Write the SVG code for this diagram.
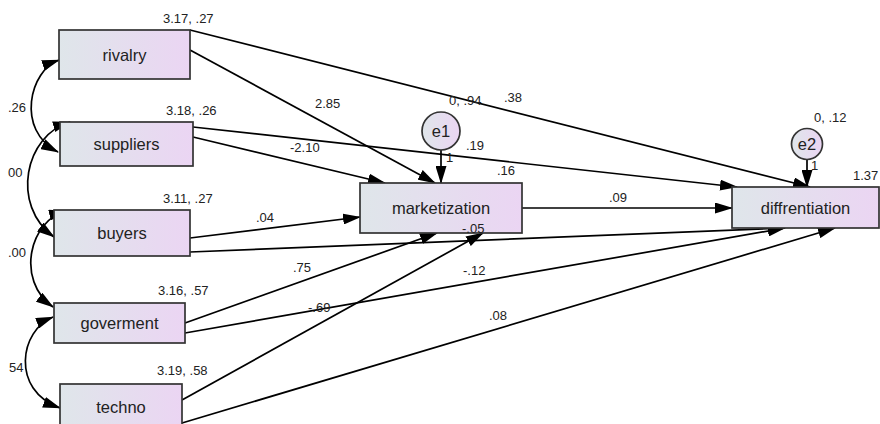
<svg xmlns="http://www.w3.org/2000/svg" width="880" height="424" viewBox="0 0 880 424">
  <defs>
    <linearGradient id="fillGrad" x1="0" y1="0" x2="1" y2="0">
      <stop offset="0" stop-color="#dfe6ea"/>
      <stop offset="1" stop-color="#ebd5f3"/>
    </linearGradient>
    <marker id="ah" viewBox="0 0 18 11" refX="17" refY="5.5" markerWidth="18" markerHeight="11" markerUnits="userSpaceOnUse" orient="auto-start-reverse">
      <path d="M0,0 L18,5.5 L0,11 z" fill="#000"/>
    </marker>
    <style>
      .box { fill: url(#fillGrad); stroke: #333; stroke-width: 1.7; }
      .err { fill: url(#fillGrad); stroke: #333; stroke-width: 1.7; }
      .lbl { font-family: "Liberation Sans", Arial, sans-serif; font-size: 16.5px; fill: #222; text-anchor: middle; }
      .num { font-family: "Liberation Sans", Arial, sans-serif; font-size: 13px; fill: #222; }
      .edge { fill: none; stroke: #000; stroke-width: 1.7; marker-end: url(#ah); }
      .cov { fill: none; stroke: #000; stroke-width: 1.7; marker-start: url(#ah); marker-end: url(#ah); }
    </style>
  </defs>

  <!-- connectors -->
  <g id="connectors">
    <path class="edge" d="M190,50 L435,183"/>
    <path class="edge" d="M190,30 L810,187"/>
    <path class="edge" d="M193,137 L385,183"/>
    <path class="edge" d="M193,127 L737,187"/>
    <path class="edge" d="M190,238 L360,217"/>
    <path class="edge" d="M190,252 L785,228"/>
    <path class="edge" d="M185,323 L437,233"/>
    <path class="edge" d="M185,333 L785,228"/>
    <path class="edge" d="M182,400 L483,233"/>
    <path class="edge" d="M182,423 L835,228"/>
    <path class="edge" d="M522,208 L732,208"/>
    <path class="edge" d="M441,150 L441,183"/>
    <path class="edge" d="M807,160 L807,187"/>
    <!-- covariances between exogenous variables -->
    <path class="cov" d="M59,60 C30,70 15,130 58,152"/>
    <path class="cov" d="M70,122 C25,135 10,205 54,237"/>
    <path class="cov" d="M66,211 C30,220 15,280 53,307"/>
    <path class="cov" d="M53,317 C20,330 10,390 60,408"/>
  </g>

  <!-- observed variables -->
  <g id="rivalry">
    <rect class="box" x="59" y="30" width="131" height="49"/>
    <text class="lbl" x="124.5" y="60.5">rivalry</text>
    <text class="num" x="163" y="23">3.17, .27</text>
  </g>
  <g id="suppliers">
    <rect class="box" x="60" y="122" width="133" height="44"/>
    <text class="lbl" x="126.5" y="150">suppliers</text>
    <text class="num" x="166" y="115">3.18, .26</text>
  </g>
  <g id="buyers">
    <rect class="box" x="54" y="210" width="136" height="46"/>
    <text class="lbl" x="122" y="239">buyers</text>
    <text class="num" x="163" y="203">3.11, .27</text>
  </g>
  <g id="goverment">
    <rect class="box" x="54" y="303" width="131" height="40"/>
    <text class="lbl" x="119.5" y="329">goverment</text>
    <text class="num" x="158" y="295">3.16, .57</text>
  </g>
  <g id="techno">
    <rect class="box" x="60" y="384" width="122" height="46"/>
    <text class="lbl" x="121" y="413">techno</text>
    <text class="num" x="157" y="375">3.19, .58</text>
  </g>
  <g id="marketization">
    <rect class="box" x="360" y="183" width="162" height="50"/>
    <text class="lbl" x="441" y="214">marketization</text>
    <text class="num" x="497" y="175">.16</text>
  </g>
  <g id="diffrentiation">
    <rect class="box" x="732" y="187" width="147" height="41"/>
    <text class="lbl" x="805.5" y="213.5">diffrentiation</text>
    <text class="num" x="853" y="180">1.37</text>
  </g>

  <!-- residuals -->
  <g id="e1">
    <circle class="err" cx="441" cy="131" r="19"/>
    <text class="lbl" x="441" y="137">e1</text>
    <text class="num" x="449" y="105">0, .94</text>
    <text class="num" x="446" y="162">1</text>
  </g>
  <g id="e2">
    <circle class="err" cx="807" cy="144" r="15.5"/>
    <text class="lbl" x="807" y="150">e2</text>
    <text class="num" x="814" y="122">0, .12</text>
    <text class="num" x="811" y="170">1</text>
  </g>

  <!-- path coefficients -->
  <g id="coefficients">
    <text class="num" x="315" y="108">2.85</text>
    <text class="num" x="290" y="152">-2.10</text>
    <text class="num" x="504" y="102">.38</text>
    <text class="num" x="466" y="150">.19</text>
    <text class="num" x="256" y="222">.04</text>
    <text class="num" x="462" y="233">-.05</text>
    <text class="num" x="609" y="202">.09</text>
    <text class="num" x="293" y="272">.75</text>
    <text class="num" x="463" y="275">-.12</text>
    <text class="num" x="308" y="312">-.69</text>
    <text class="num" x="489" y="320">.08</text>
    <!-- covariances -->
    <text class="num" x="8" y="112">.26</text>
    <text class="num" x="8" y="177">00</text>
    <text class="num" x="8" y="257">.00</text>
    <text class="num" x="9" y="372">54</text>
  </g>
</svg>
